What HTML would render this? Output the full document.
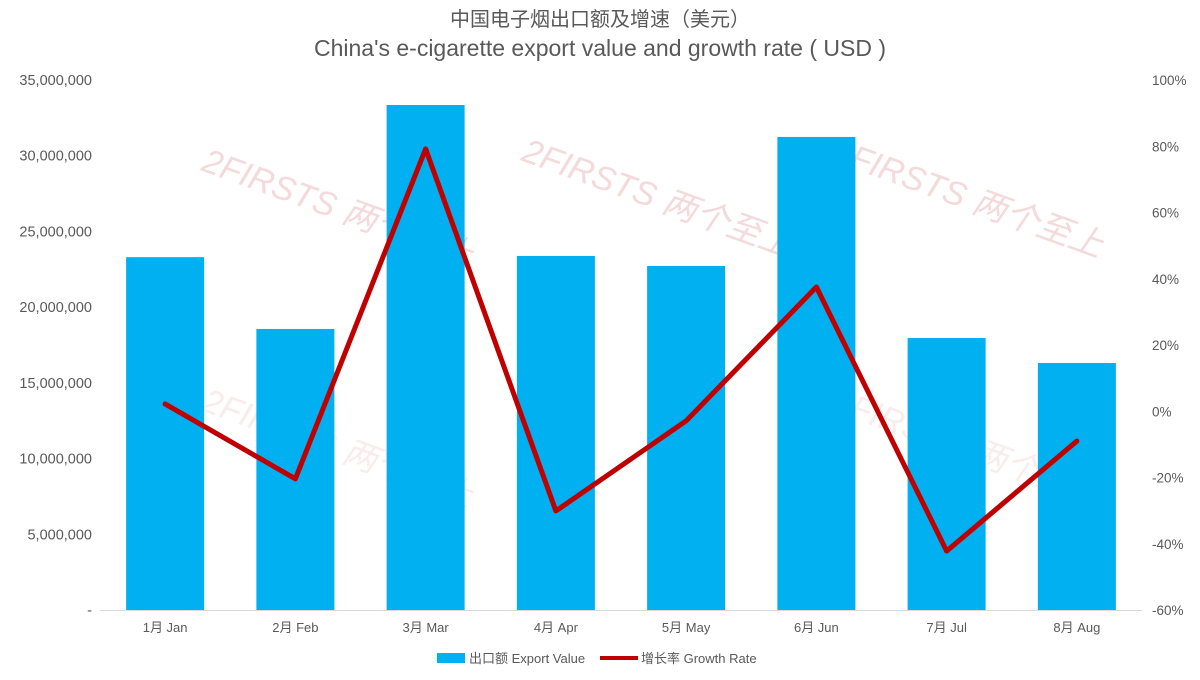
<!DOCTYPE html>
<html><head><meta charset="utf-8"><style>
body{margin:0;background:#fff;}
svg{display:block;font-family:"Liberation Sans","Noto Sans CJK SC",sans-serif;}
</style></head><body>
<svg id="chart" width="1200" height="680">
<text x="600" y="26" text-anchor="middle" font-size="20" fill="#595959">中国电子烟出口额及增速（美元）</text>
<text x="600" y="56" text-anchor="middle" font-size="23" fill="#595959">China's e-cigarette export value and growth rate ( USD )</text>
<g id="wm" fill="#e8b4b4" opacity="0.5" font-size="34" font-style="italic">
<text transform="translate(200,170) rotate(20)">2FIRSTS 两个至上</text>
<text transform="translate(520,160) rotate(20)">2FIRSTS 两个至上</text>
<text transform="translate(830,160) rotate(20)">2FIRSTS 两个至上</text>
<text transform="translate(200,410) rotate(20)" opacity="0.5">2FIRSTS 两个至上</text>
<text transform="translate(830,410) rotate(20)" opacity="0.5">2FIRSTS 两个至上</text>
</g>
<g id="plot"></g>
<g>
<rect x="437" y="653" width="28" height="10" fill="#00B0F0"/>
<text x="469" y="663" font-size="13" fill="#595959">出口额 Export Value</text>
<line x1="600" y1="658" x2="638" y2="658" stroke="#C00000" stroke-width="4"/>
<text x="641" y="663" font-size="13" fill="#595959">增长率 Growth Rate</text>
</g>
</svg>
<script>
const categories=["1月 Jan","2月 Feb","3月 Mar","4月 Apr","5月 May","6月 Jun","7月 Jul","8月 Aug"];
const exportValues=[23300000,18560000,33350000,23380000,22720000,31240000,17960000,16310000];
const growthRates=[2.2,-20.4,79.2,-30.1,-2.9,37.5,-42.2,-9.0];
const leftTicks=[0,5000000,10000000,15000000,20000000,25000000,30000000,35000000];
const rightTicks=[-60,-40,-20,0,20,40,60,80,100];

const NS="http://www.w3.org/2000/svg";
const g=document.getElementById('plot');
const X0=100,X1=1142,Y0=610,Y1=80;
const bw=(X1-X0)/categories.length;
const xC=i=>X0+bw*(i+0.5);
const yL=v=>Y0-(v/35000000)*(Y0-Y1);
const yR=v=>Y0-((v+60)/160)*(Y0-Y1);
function mk(t,a){const e=document.createElementNS(NS,t);for(const k in a)e.setAttribute(k,a[k]);g.appendChild(e);return e;}
leftTicks.forEach(v=>{
  const t=mk('text',{x:92,y:yL(v)+5,'text-anchor':'end','font-size':14.5,fill:'#595959'});
  t.textContent=v===0?'-':v.toLocaleString('en-US');
  
  
});
rightTicks.forEach(v=>{
  const t=mk('text',{x:1152,y:yR(v)+5,'font-size':13.5,fill:'#595959'});
  t.textContent=v+'%';
  
  
});
exportValues.forEach((v,i)=>{
  const r=mk('rect',{x:xC(i)-39,y:yL(v),width:78,height:Y0-yL(v),fill:'#00B0F0'});
  
  
  const t=mk('text',{x:xC(i),y:632,'text-anchor':'middle','font-size':13,fill:'#595959'});
  t.textContent=categories[i];
  
  
});
const ax=mk('line',{x1:X0,y1:Y0+0.5,x2:X1,y2:Y0+0.5,stroke:'#d9d9d9','stroke-width':1});


const pl=mk('polyline',{points:growthRates.map((v,i)=>xC(i)+','+yR(v)).join(' '),fill:'none',stroke:'#C00000','stroke-width':5,'stroke-linejoin':'round','stroke-linecap':'round'});


</script>
</body></html>
